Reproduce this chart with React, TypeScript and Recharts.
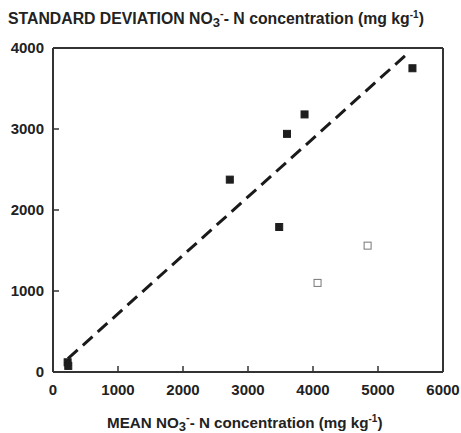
import { ReferenceLine, Scatter, ScatterChart, XAxis, YAxis } from "recharts"

// filled squares
const meanFilled = [5530, 3870, 3600, 2720, 3480, 225, 235]
const sdFilled = [3750, 3180, 2940, 2375, 1790, 120, 75]

// open squares
const meanOpen = [4840, 4070]
const sdOpen = [1560, 1100]

// dashed regression line end points
const fitX = [230, 5480]
const fitY = [165, 3950]

const xTicks = [0, 1000, 2000, 3000, 4000, 5000, 6000]
const yTicks = [0, 1000, 2000, 3000, 4000]

const filled = meanFilled.map((x, i) => ({ x, y: sdFilled[i] }))
const open = meanOpen.map((x, i) => ({ x, y: sdOpen[i] }))
const fit = fitX.map((x, i) => ({ x, y: fitY[i] }))

const AXIS = "#333"
const FONT = "'Liberation Sans', Arial, sans-serif"

const XTick = (props: any) => {
  const { x, y, payload } = props
  const edge = payload.value === 0 || payload.value === 6000
  return (
    <g>
      {!edge && <line x1={x} y1={y} x2={x} y2={y - 6} stroke={AXIS} strokeWidth={1.5} />}
      <text x={x} y={y + 23} textAnchor="middle" fontFamily={FONT} fontWeight="bold" fontSize={15} fill="#222">
        {payload.value}
      </text>
    </g>
  )
}

const YTick = (props: any) => {
  const { x, y, payload } = props
  const edge = payload.value === 0 || payload.value === 4000
  return (
    <g>
      {!edge && <line x1={x} y1={y} x2={x + 6} y2={y} stroke={AXIS} strokeWidth={1.5} />}
      <text x={x - 9} y={y + 5} textAnchor="end" fontFamily={FONT} fontWeight="bold" fontSize={15} fill="#222">
        {payload.value}
      </text>
    </g>
  )
}

const Square = (props: any) => {
  const { cx, cy, fill, stroke } = props
  return <rect x={cx - 3.5} y={cy - 3.5} width={7} height={7} fill={fill} stroke={stroke} strokeWidth={1} />
}

export default function App() {
  return (
    <div style={{ position: "absolute", left: 0, top: 0, width: 461, height: 433, background: "#fff" }}>
      <ScatterChart width={461} height={433} margin={{ top: 48, right: 18, bottom: 31, left: 8 }}>
        <XAxis
          type="number"
          dataKey="x"
          domain={[0, 6000]}
          ticks={xTicks}
          interval={0}
          height={30}
          tickSize={0}
          tickMargin={0}
          tick={<XTick />}
          axisLine={{ stroke: AXIS, strokeWidth: 2 }}
        />
        <YAxis
          type="number"
          dataKey="y"
          domain={[0, 4000]}
          ticks={yTicks}
          interval={0}
          width={45}
          tickSize={0}
          tickMargin={0}
          tick={<YTick />}
          axisLine={{ stroke: AXIS, strokeWidth: 2 }}
        />
        <ReferenceLine x={6000} stroke={AXIS} strokeWidth={2} />
        <ReferenceLine y={4000} stroke={AXIS} strokeWidth={2} />
        <Scatter
          data={fit}
          line={{ stroke: "#1a1a1a", strokeWidth: 3, strokeDasharray: "13 7" }}
          shape={() => <g />}
          isAnimationActive={false}
        />
        <Scatter data={filled} fill="#1e1e1e" stroke="#1e1e1e" shape={<Square />} isAnimationActive={false} />
        <Scatter data={open} fill="#fff" stroke="#777" shape={<Square />} isAnimationActive={false} />
      </ScatterChart>
      <svg width={461} height={433} style={{ position: "absolute", left: 0, top: 0, pointerEvents: "none" }}>
        <text x={8} y={24} fontFamily={FONT} fontWeight="bold" fontSize={15.8} fill="#222">
          STANDARD DEVIATION NO
          <tspan dy={3} fontSize={13}>3</tspan>
          <tspan dy={-10} fontSize={11}>-</tspan>
          <tspan dy={7}>- N concentration (mg kg</tspan>
          <tspan dy={-6} fontSize={10}>-1</tspan>
          <tspan dy={6}>)</tspan>
        </text>
        <text x={107} y={428} fontFamily={FONT} fontWeight="bold" fontSize={15.2} fill="#222">
          MEAN NO
          <tspan dy={3} fontSize={13}>3</tspan>
          <tspan dy={-10} fontSize={11}>-</tspan>
          <tspan dy={7}>- N concentration (mg kg</tspan>
          <tspan dy={-6} fontSize={10}>-1</tspan>
          <tspan dy={6}>)</tspan>
        </text>
      </svg>
    </div>
  )
}
